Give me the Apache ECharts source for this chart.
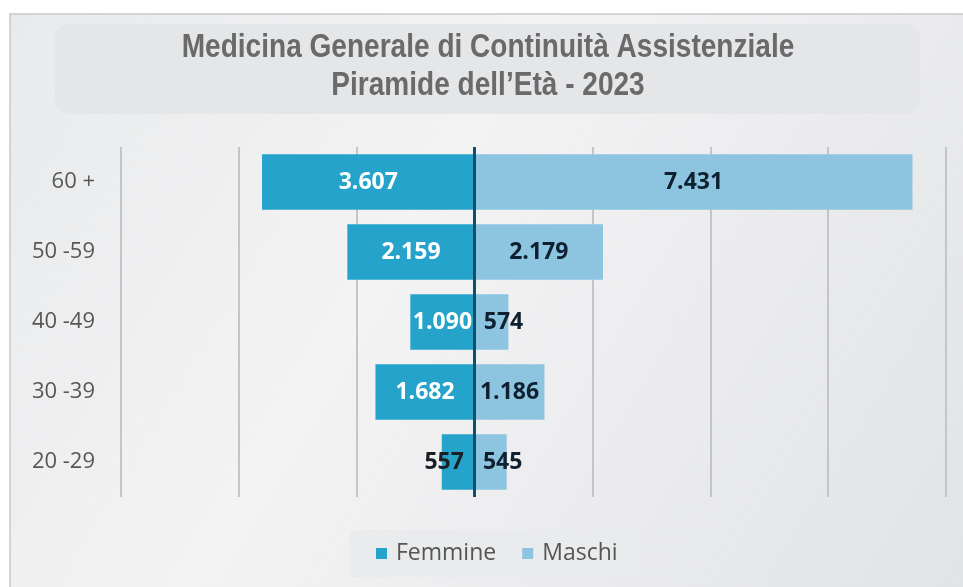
<!DOCTYPE html>
<html>
<head>
    <meta charset="utf-8">
    <title>index</title>
    <style>
        html, body { margin: 0; padding: 0; background: #ffffff; }
        #container { width: 963px; height: 587px; }
    </style>
</head>
<body>
    <div id="container"></div>
</body>
<script src="https://cdn.jsdelivr.net/npm/echarts@6/dist/echarts.min.js"></script>
<script type="text/javascript">
    // fasce d'età, dal basso verso l'alto
    var categories = ['20 -29', '30 -39', '40 -49', '50 -59', '60 +'];
    var femmine = [557, 1682, 1090, 2159, 3607];
    var maschi = [545, 1186, 574, 2179, 7431];
    var xTicks = [-6000, -4000, -2000, 0, 2000, 4000, 6000, 8000];
    var titleLines = ['Medicina Generale di Continuità Assistenziale', 'Piramide dell\u2019Età - 2023'];

    var fmt = function (v) {
        return Math.abs(v).toString().replace(/\B(?=(\d{3})+(?!\d))/g, '.');
    };

    // titolo "stretto" come Arial Narrow
    var titleText = function (txt, y) {
        return {
            type: 'text',
            x: 488,
            y: y,
            scaleX: 0.85,
            z: 5,
            style: {
                text: txt,
                textAlign: 'center',
                textVerticalAlign: 'middle',
                fontFamily: '"Liberation Sans", Arial',
                fontWeight: 'bold',
                fontSize: 33,
                fill: '#6a6a6b'
            }
        };
    };

    var dom = document.getElementById('container'),
        myChart = echarts.init(dom),
        option = {
            backgroundColor: '#ffffff',
            graphic: [{
                type: 'rect',
                z: -10,
                shape: { x: 10, y: 14, width: 960, height: 580 },
                style: {
                    fill: new echarts.graphic.LinearGradient(0, 0, 1, 1, [
                        { offset: 0, color: '#e9eaeb' },
                        { offset: 0.4, color: '#f3f3f4' },
                        { offset: 1, color: '#e2e3e5' }
                    ]),
                    stroke: '#c9c9c9',
                    lineWidth: 1.5
                }
            }, {
                type: 'rect',
                z: -9,
                shape: { x: 55, y: 24, width: 865, height: 90, r: 14 },
                style: { fill: '#e5e6e8' }
            },
                titleText(titleLines[0], 48),
                titleText(titleLines[1], 86)
            ],
            legend: {
                bottom: 10,
                left: 350,
                backgroundColor: '#eaebec',
                padding: [12, 22, 12, 26],
                itemWidth: 11,
                itemHeight: 11,
                itemGap: 26,
                icon: 'rect',
                textStyle: {
                    fontFamily: '"Open Sans", sans-serif',
                    fontSize: 23,
                    color: '#555555',
                    padding: [0, 0, 0, 4]
                },
                data: ['Femmine', 'Maschi']
            },
            grid: {
                left: 121,
                right: 17,
                top: 147,
                bottom: 90
            },
            xAxis: {
                type: 'value',
                min: xTicks[0],
                max: xTicks[xTicks.length - 1],
                interval: 2000,
                axisLabel: { show: false },
                axisLine: { show: false },
                axisTick: { show: false },
                splitLine: { lineStyle: { color: '#c4c5c7', width: 2 } }
            },
            yAxis: {
                type: 'category',
                data: categories,
                axisLine: { show: false },
                axisTick: { show: false },
                axisLabel: {
                    margin: 26,
                    fontFamily: '"Open Sans", sans-serif',
                    fontSize: 22,
                    color: '#575757'
                }
            },
            series: [{
                name: 'Femmine',
                type: 'bar',
                stack: 'tot',
                barCategoryGap: '21%',
                itemStyle: { color: '#25a3cb' },
                label: {
                    show: true,
                    position: 'inside',
                    formatter: function (p) { return fmt(p.value); },
                    fontFamily: '"Open Sans", sans-serif',
                    fontWeight: 'bold',
                    fontSize: 23,
                    color: '#ffffff'
                },
                data: femmine.map(function (v) {
                    var d = { value: -v };
                    if (v < 1000) d.label = { color: '#1b1f24', offset: [-14, 0] };
                    return d;
                }),
                markLine: {
                    silent: true,
                    symbol: 'none',
                    label: { show: false },
                    lineStyle: { color: '#0e4f6e', width: 3, type: 'solid' },
                    data: [{ xAxis: 0 }],
                    z: 10
                }
            }, {
                name: 'Maschi',
                type: 'bar',
                stack: 'tot',
                itemStyle: { color: '#8dc5e1' },
                label: {
                    show: true,
                    position: 'inside',
                    formatter: function (p) { return fmt(p.value); },
                    fontFamily: '"Open Sans", sans-serif',
                    fontWeight: 'bold',
                    fontSize: 23,
                    color: '#0f2030'
                },
                data: maschi.map(function (v) {
                    var d = { value: v };
                    if (v < 1000) d.label = { offset: [12, 0] };
                    return d;
                })
            }]
        };
    myChart.setOption(option, true);
</script>
</html>
